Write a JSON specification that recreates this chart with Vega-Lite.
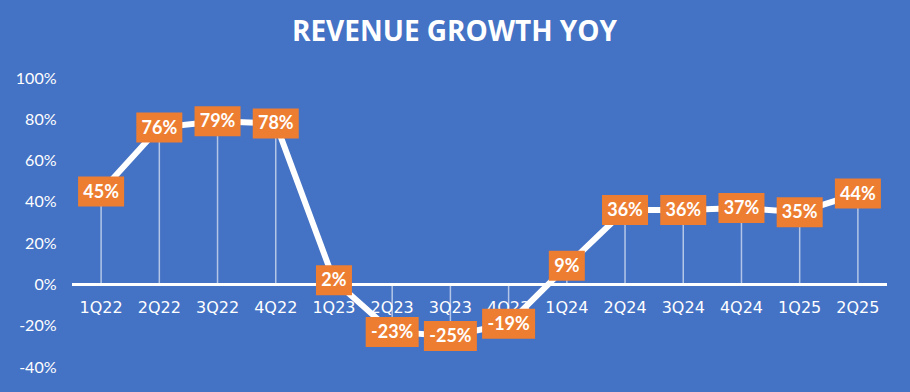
{
  "$schema": "https://vega.github.io/schema/vega-lite/v6.json",
  "width": 815,
  "height": 289,
  "autosize": {"type": "none"},
  "padding": {"left": 72, "top": 78, "right": 23, "bottom": 25},
  "background": "#4472C4",
  "title": {
    "text": "REVENUE GROWTH YOY",
    "color": "white",
    "font": "Open Sans",
    "fontSize": 28,
    "fontWeight": "bold",
    "anchor": "middle",
    "dx": -25,
    "offset": -5,
    "baseline": "bottom"
  },
  "config": {
    "view": {"stroke": null},
    "font": "Lato"
  },
  "data": {
    "values": [
      {"q": "1Q22", "v": 45},
      {"q": "2Q22", "v": 76},
      {"q": "3Q22", "v": 79},
      {"q": "4Q22", "v": 78},
      {"q": "1Q23", "v": 2},
      {"q": "2Q23", "v": -23},
      {"q": "3Q23", "v": -25},
      {"q": "4Q23", "v": -19},
      {"q": "1Q24", "v": 9},
      {"q": "2Q24", "v": 36},
      {"q": "3Q24", "v": 36},
      {"q": "4Q24", "v": 37},
      {"q": "1Q25", "v": 35},
      {"q": "2Q25", "v": 44}
    ]
  },
  "encoding": {
    "x": {
      "field": "q",
      "type": "ordinal",
      "sort": null,
      "scale": {"paddingInner": 0, "paddingOuter": 0},
      "axis": null
    }
  },
  "layer": [
    {
      "mark": {"type": "rule", "color": "white", "strokeWidth": 1.5, "opacity": 0.6},
      "encoding": {
        "y": {
          "field": "v",
          "type": "quantitative",
          "scale": {"domain": [-40, 100], "nice": false},
          "axis": {
            "values": [-40, -20, 0, 20, 40, 60, 80, 100],
            "labelExpr": "datum.value + '%'",
            "domain": false,
            "ticks": false,
            "grid": false,
            "labelColor": "white",
            "labelFont": "Lato",
            "labelFontSize": 16,
            "labelPadding": 16,
            "title": null
          }
        },
        "y2": {"datum": 0}
      }
    },
    {
      "mark": {"type": "rule", "color": "white", "strokeWidth": 2},
      "encoding": {"y": {"datum": 0}, "x": null}
    },
    {
      "mark": {"type": "text", "color": "white", "font": "DejaVu Sans", "fontSize": 16, "dy": 24, "baseline": "middle"},
      "encoding": {
        "y": {"datum": 0},
        "text": {"field": "q"}
      }
    },
    {
      "mark": {"type": "line", "color": "white", "strokeWidth": 6},
      "encoding": {"y": {"field": "v", "type": "quantitative"}}
    },
    {
      "mark": {"type": "point", "filled": true, "color": "#ED7D31", "opacity": 1, "size": 3600, "strokeWidth": 0},
      "encoding": {
        "y": {"field": "v", "type": "quantitative"},
        "shape": {
          "condition": [
            {"test": "datum.v < 0", "value": "M-0.883,-0.5L0.883,-0.5L0.883,0.5L-0.883,0.5Z"},
            {"test": "datum.v < 10", "value": "M-0.6,-0.5L0.6,-0.5L0.6,0.5L-0.6,0.5Z"}
          ],
          "value": "M-0.767,-0.5L0.767,-0.5L0.767,0.5L-0.767,0.5Z"
        }
      }
    },
    {
      "mark": {"type": "text", "color": "white", "font": "Lato", "fontWeight": "bold", "fontSize": 18, "baseline": "middle", "dy": 1},
      "encoding": {
        "y": {"field": "v", "type": "quantitative"},
        "text": {"value": {"expr": "datum.v + '%'"}}
      }
    }
  ]
}
